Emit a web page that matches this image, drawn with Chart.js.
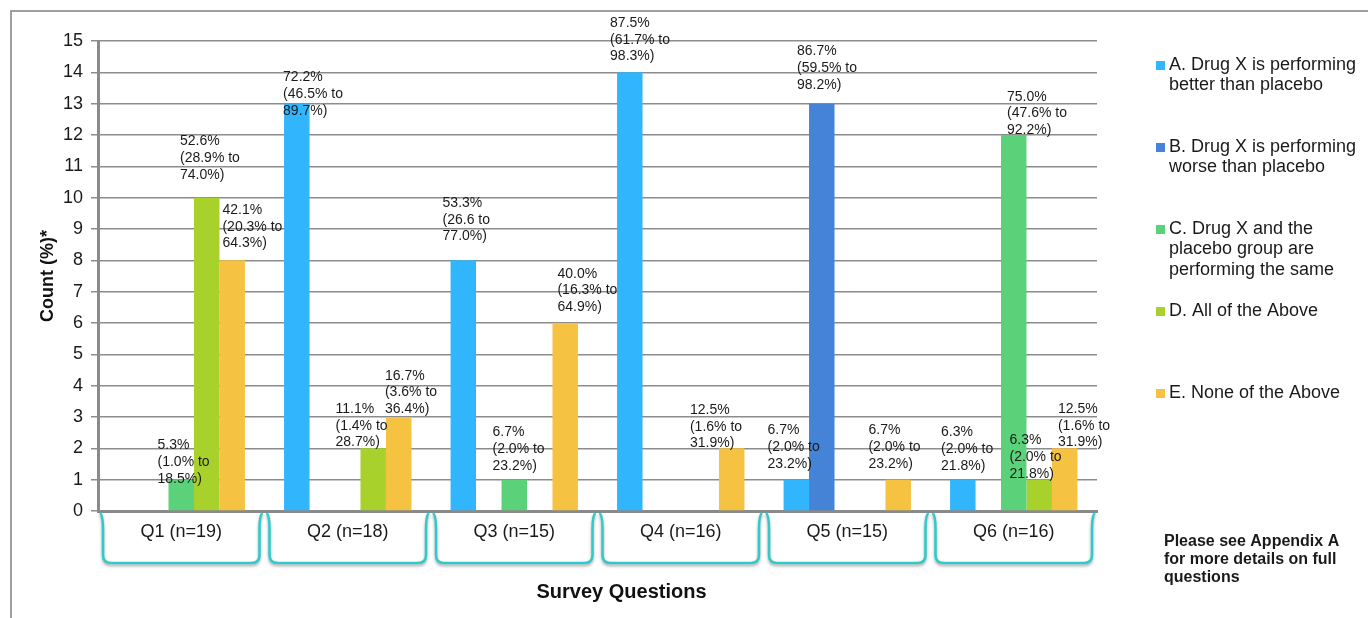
<!DOCTYPE html>
<html>
<head>
<meta charset="utf-8">
<script src="https://cdn.jsdelivr.net/npm/chart.js@4"></script>
<style>
  html, body { margin: 0; padding: 0; background: #fff; }
  canvas { display: block; }
</style>
</head>
<body>
<canvas id="chart" width="1368" height="618"></canvas>
<script>
const categories = ["Q1 (n=19)", "Q2 (n=18)", "Q3 (n=15)", "Q4 (n=16)", "Q5 (n=15)", "Q6 (n=16)"];

const seriesNames = [
  "A. Drug X is performing better than placebo",
  "B. Drug X is performing worse than placebo",
  "C. Drug X and the placebo group are performing the same",
  "D. All of the Above",
  "E. None of the Above",
];
const legendLines = [
  ["A. Drug X is performing", "better than placebo"],
  ["B. Drug X is performing", "worse than placebo"],
  ["C. Drug X and the", "placebo group are", "performing the same"],
  ["D. All of the Above"],
  ["E. None of the Above"],
];

const countsA = [0, 13, 8, 14, 1, 1];
const countsB = [0, 0, 0, 0, 13, 0];
const countsC = [1, 0, 1, 0, 0, 12];
const countsD = [10, 2, 0, 0, 0, 1];
const countsE = [8, 3, 6, 2, 1, 2];

// percentage (95% CI) text shown above each bar
const pctA = [null, "72.2%\n(46.5% to\n89.7%)", "53.3%\n(26.6 to\n77.0%)", "87.5%\n(61.7% to\n98.3%)", "6.7%\n(2.0% to\n23.2%)", "6.3%\n(2.0% to\n21.8%)"];
const pctB = [null, null, null, null, "86.7%\n(59.5% to\n98.2%)", null];
const pctC = ["5.3%\n(1.0% to\n18.5%)", null, "6.7%\n(2.0% to\n23.2%)", null, null, "75.0%\n(47.6% to\n92.2%)"];
const pctD = ["52.6%\n(28.9% to\n74.0%)", "11.1%\n(1.4% to\n28.7%)", null, null, null, "6.3%\n(2.0% to\n21.8%)"];
const pctE = ["42.1%\n(20.3% to\n64.3%)", "16.7%\n(3.6% to\n36.4%)", "40.0%\n(16.3% to\n64.9%)", "12.5%\n(1.6% to\n31.9%)", "6.7%\n(2.0% to\n23.2%)", "12.5%\n(1.6% to\n31.9%)"];

const colors = ["#31b6fd", "#4483d6", "#5bd17a", "#a9d12b", "#f5c242"];

// hand placement of the labels, as in the original slide: [dx, dy] in px
const labelNudge = {
  "2,0": [-7, 9], "3,0": [-10, -13], "4,0": [7, -7],
  "0,1": [3, 17], "3,1": [-21, 4], "4,1": [3, 2],
  "0,2": [-4, -14], "2,2": [-5, -4], "4,2": [9, -6],
  "0,3": [-3, -6], "4,3": [-25, 5],
  "0,4": [-12, -6], "1,4": [-8, -9], "4,4": [-13, -6],
  "0,5": [-5, -4], "2,5": [10, 5], "3,5": [-13, 4], "4,5": [10, 4],
};

const FONT = "'Liberation Sans', Arial, sans-serif";

const labelPlugin = {
  id: "pctLabels",
  afterDatasetsDraw(chart) {
    const ctx = chart.ctx;
    ctx.save();
    ctx.font = "14px " + FONT;
    ctx.fillStyle = "#1a1a1a";
    ctx.textAlign = "left";
    ctx.textBaseline = "middle";
    chart.data.datasets.forEach((ds, di) => {
      const meta = chart.getDatasetMeta(di);
      meta.data.forEach((bar, i) => {
        const txt = ds.pct[i];
        if (!txt) return;
        const lines = txt.split("\n");
        const nudge = labelNudge[di + "," + i] || [0, 0];
        const left = bar.x - bar.width / 2 - 4 + nudge[0];
        const lh = 16.6;
        const first = bar.y - 10 - lh * (lines.length - 1) + nudge[1];
        lines.forEach((l, k) => ctx.fillText(l, left, first + k * lh));
      });
    });
    ctx.restore();
  },
};

const decorPlugin = {
  id: "decor",
  afterDraw(chart) {
    const ctx = chart.ctx;
    const area = chart.chartArea;
    const xs = chart.scales.x;
    ctx.save();

    // slide frame
    ctx.strokeStyle = "#a0a0a0";
    ctx.lineWidth = 2;
    ctx.beginPath();
    ctx.moveTo(11, 618);
    ctx.lineTo(11, 11);
    ctx.lineTo(1368, 11);
    ctx.stroke();

    // category boxes
    const catW = (area.right - area.left) / categories.length;
    const top = area.bottom + 2;
    const bot = area.bottom + 52;
    categories.forEach((c, i) => {
      const cx = xs.getPixelForValue(i);
      const x0 = cx - catW / 2 + 5;
      const x1 = cx + catW / 2 - 5;
      ctx.save();
      ctx.shadowColor = "rgba(0,0,0,0.35)";
      ctx.shadowBlur = 3;
      ctx.shadowOffsetY = 2;
      ctx.strokeStyle = "#2fcaca";
      ctx.lineWidth = 2.5;
      ctx.beginPath();
      ctx.moveTo(x0 - 3, top);
      ctx.quadraticCurveTo(x0, top + 2, x0, top + 16);
      ctx.lineTo(x0, bot - 8);
      ctx.quadraticCurveTo(x0, bot, x0 + 8, bot);
      ctx.lineTo(x1 - 8, bot);
      ctx.quadraticCurveTo(x1, bot, x1, bot - 8);
      ctx.lineTo(x1, top + 16);
      ctx.quadraticCurveTo(x1, top + 2, x1 + 3, top);
      ctx.stroke();
      ctx.restore();

      ctx.fillStyle = "#1a1a1a";
      ctx.font = "18px " + FONT;
      ctx.textAlign = "center";
      ctx.textBaseline = "middle";
      ctx.fillText(c, cx, area.bottom + 21);
    });

    // axis titles
    ctx.fillStyle = "#111";
    ctx.font = "bold 20px " + FONT;
    ctx.textAlign = "center";
    ctx.textBaseline = "middle";
    ctx.fillText("Survey Questions", (area.left + area.right) / 2 + 24, 592);

    ctx.save();
    ctx.translate(48, (area.top + area.bottom) / 2);
    ctx.rotate(-Math.PI / 2);
    ctx.font = "bold 18px " + FONT;
    ctx.fillText("Count (%)*", 0, 0);
    ctx.restore();

    // legend
    ctx.textAlign = "left";
    ctx.font = "18px " + FONT;
    legendLines.forEach((lines, i) => {
      const y = 65 + i * 82;
      ctx.fillStyle = colors[i];
      ctx.fillRect(1156, y - 4, 9, 9);
      ctx.fillStyle = "#1a1a1a";
      lines.forEach((l, k) => ctx.fillText(l, 1169, y + k * 20.5));
    });

    // footnote
    ctx.font = "bold 16px " + FONT;
    ["Please see Appendix A", "for more details on full", "questions"].forEach((l, k) =>
      ctx.fillText(l, 1164, 542 + k * 18)
    );
    ctx.restore();
  },
};

const counts = [countsA, countsB, countsC, countsD, countsE];
const pcts = [pctA, pctB, pctC, pctD, pctE];

new Chart(document.getElementById("chart"), {
  type: "bar",
  plugins: [labelPlugin, decorPlugin],
  data: {
    labels: categories,
    datasets: seriesNames.map((name, i) => ({
      label: name,
      data: counts[i],
      pct: pcts[i],
      backgroundColor: colors[i],
      borderWidth: 0,
      categoryPercentage: 0.765,
      barPercentage: 1.0,
    })),
  },
  options: {
    responsive: false,
    devicePixelRatio: 1,
    animation: false,
    layout: { padding: { left: 0, top: 41, right: 271, bottom: 0 } },
    plugins: {
      legend: { display: false },
      tooltip: { enabled: false },
    },
    scales: {
      x: {
        ticks: { display: false },
        grid: { display: false },
        border: { color: "#8a8a8a", width: 3 },
        afterFit: (s) => { s.height = 107; },
      },
      y: {
        min: 0,
        max: 15,
        ticks: {
          stepSize: 1,
          color: "#1a1a1a",
          font: { size: 18, family: FONT },
          padding: 8,
        },
        grid: { color: "#8c8c8c", lineWidth: 1.5, tickLength: 7 },
        border: { color: "#8a8a8a", width: 3 },
        afterFit: (s) => { s.width = 98; },
      },
    },
  },
});
</script>
</body>
</html>
